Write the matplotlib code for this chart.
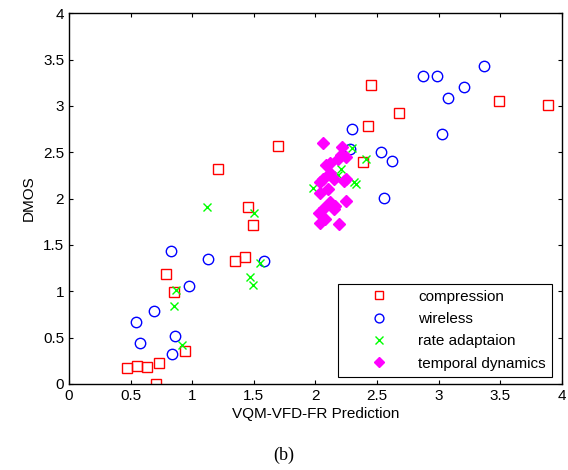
import matplotlib
matplotlib.use('Agg')
import matplotlib.pyplot as plt
from matplotlib.ticker import FormatStrFormatter

plt.rcParams['font.family'] = ['Liberation Sans', 'DejaVu Sans']

# compression
comp_x = [3.89, 3.49, 2.68, 2.45, 2.43, 2.39, 1.21, 1.70, 1.45, 1.49, 1.35, 1.43,
          0.79, 0.85, 0.94, 0.73, 0.63, 0.55, 0.47, 0.71]
comp_y = [3.01, 3.05, 2.92, 3.22, 2.78, 2.39, 2.32, 2.57, 1.91, 1.72, 1.33, 1.37,
          1.19, 0.99, 0.36, 0.23, 0.18, 0.19, 0.17, 0.00]

# wireless
wl_x = [2.30, 2.87, 2.99, 3.37, 3.21, 3.08, 3.03, 2.28, 2.53, 2.62, 2.56,
        0.83, 1.13, 1.58, 0.97, 0.69, 0.54, 0.58, 0.86, 0.84]
wl_y = [2.75, 3.32, 3.32, 3.43, 3.20, 3.08, 2.70, 2.53, 2.50, 2.41, 2.01,
        1.43, 1.35, 1.33, 1.06, 0.79, 0.67, 0.44, 0.52, 0.32]

# rate adaptaion
ra_x = [1.12, 1.50, 1.55, 1.47, 1.49, 0.87, 0.85, 0.92,
        1.98, 2.21, 2.18, 2.31, 2.33, 2.41, 2.30]
ra_y = [1.91, 1.84, 1.31, 1.15, 1.07, 1.01, 0.84, 0.42,
        2.11, 2.32, 2.25, 2.18, 2.16, 2.43, 2.55]

# temporal dynamics
td_x = [2.06, 2.22, 2.25, 2.21, 2.18, 2.12, 2.09, 2.12, 2.15, 2.06, 2.04, 2.25,
        2.23, 2.10, 2.04, 2.25, 2.12, 2.16, 2.15, 2.07, 2.03, 2.08, 2.04, 2.19]
td_y = [2.60, 2.56, 2.45, 2.47, 2.43, 2.38, 2.36, 2.28, 2.21, 2.21, 2.18, 2.21,
        2.19, 2.10, 2.06, 1.97, 1.96, 1.92, 1.89, 1.90, 1.84, 1.78, 1.74, 1.73]

ticks = [0, 0.5, 1, 1.5, 2, 2.5, 3, 3.5, 4]

fig = plt.figure(figsize=(5.68, 4.70), dpi=100)
ax = fig.add_axes([0.1215, 0.183, 0.8675, 0.789])

ax.plot(comp_x, comp_y, 's', mfc='none', mec=(1, 0, 0), ms=7.5, mew=1.0, label='compression')
ax.plot(wl_x, wl_y, 'o', mfc='none', mec=(0, 0, 1), ms=7.5, mew=1.0, label='wireless')
ax.plot(ra_x, ra_y, 'x', color=(0, 1, 0), ms=6, mew=1.0, label='rate adaptaion')
ax.plot(td_x, td_y, 'D', color=(1, 0, 1), mec=(1, 0, 1), ms=6, label='temporal dynamics')

ax.set_xlim(0, 4)
ax.set_ylim(0, 4)
ax.set_xticks(ticks)
ax.set_yticks(ticks)
ax.xaxis.set_major_formatter(FormatStrFormatter('%g'))
ax.yaxis.set_major_formatter(FormatStrFormatter('%g'))
ax.tick_params(direction='in', top=True, right=True, length=3, labelsize=11)
for s in ax.spines.values():
    s.set_linewidth(1.0)

ax.set_xlabel('VQM-VFD-FR Prediction', fontsize=11, labelpad=3)
ax.set_ylabel('DMOS', fontsize=11, labelpad=5)

leg = ax.legend(loc='lower right', bbox_to_anchor=(0.98, 0.019), borderaxespad=0,
                fontsize=11, fancybox=False, edgecolor='black', framealpha=1,
                handlelength=4.6, handletextpad=0.25, labelspacing=0.55, borderpad=0.4,
                markerscale=0.85)
leg.get_frame().set_linewidth(0.8)

fig.text(0.5, 0.032, '(b)', ha='center', va='center', fontsize=13,
         family=['Liberation Serif', 'DejaVu Serif'])

fig.savefig('out.png', dpi=100)
